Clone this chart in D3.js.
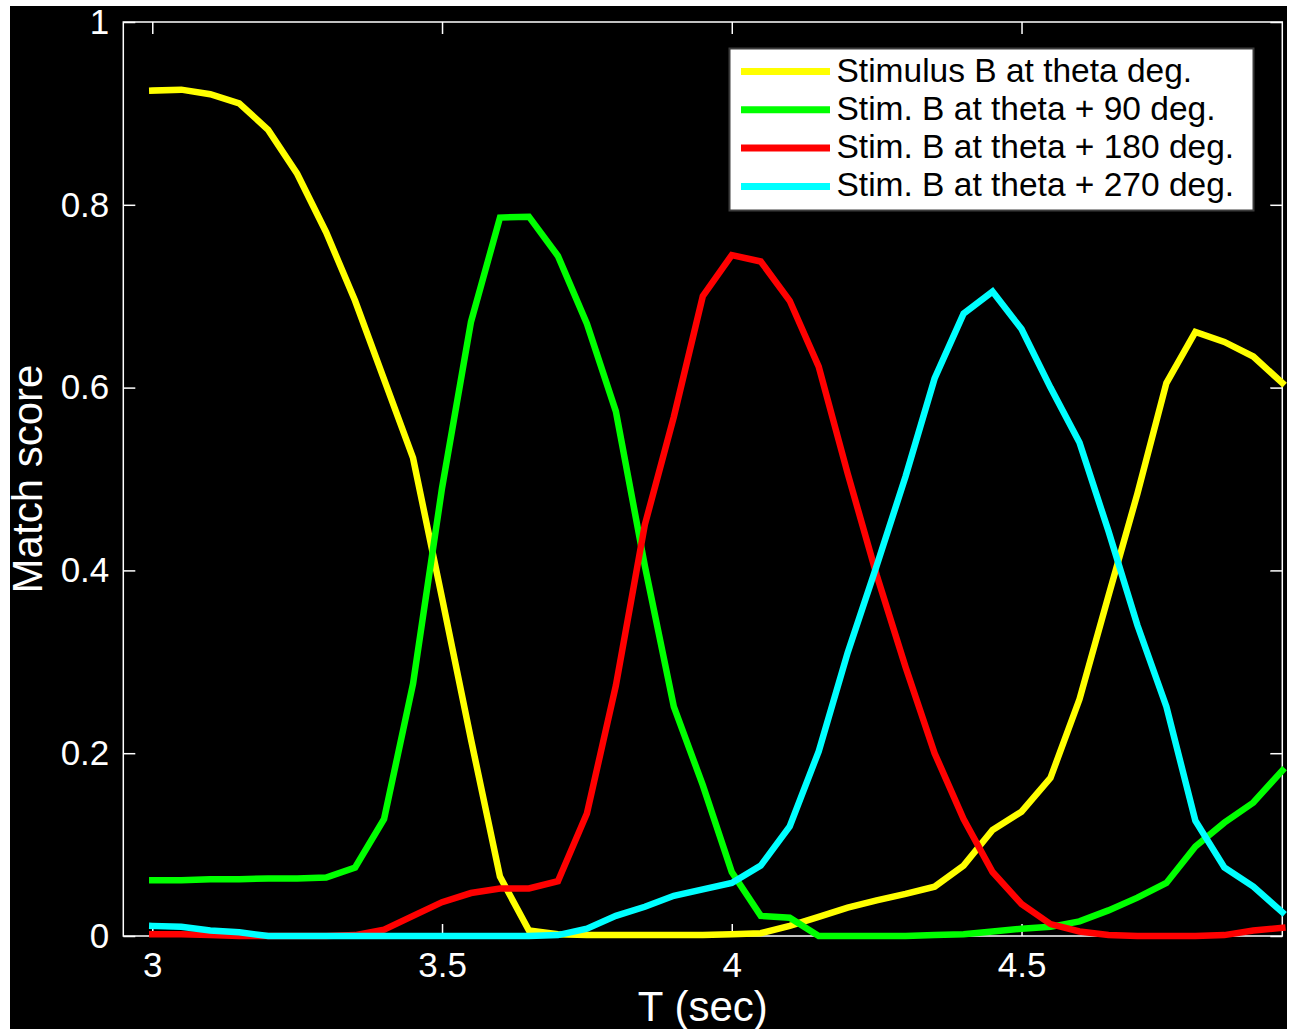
<!DOCTYPE html>
<html>
<head>
<meta charset="utf-8">
<script src="https://cdn.jsdelivr.net/npm/d3@7"></script>
<style>
    body {margin: 0; background: #fff;}
    svg text {font-family: "Liberation Sans", Arial, Helvetica, sans-serif;}
</style>
</head>
<body>
<div id="chart"></div>
<script>
// sample times (sec)
var time = [3.00, 3.05, 3.10, 3.15, 3.20, 3.25, 3.30, 3.35, 3.40, 3.45,
    3.50, 3.55, 3.60, 3.65, 3.70, 3.75, 3.80, 3.85, 3.90, 3.95,
    4.00, 4.05, 4.10, 4.15, 4.20, 4.25, 4.30, 4.35, 4.40, 4.45,
    4.50, 4.55, 4.60, 4.65, 4.70, 4.75, 4.80, 4.85, 4.90, 4.95];

// match scores
var stimTheta = [0.925, 0.926, 0.921, 0.911, 0.882, 0.834, 0.770, 0.695, 0.609, 0.523,
    0.370, 0.215, 0.065, 0.006, 0.002, 0.001, 0.001, 0.001, 0.001, 0.001,
    0.002, 0.003, 0.011, 0.021, 0.031, 0.039, 0.046, 0.054, 0.077, 0.116,
    0.136, 0.173, 0.259, 0.372, 0.484, 0.605, 0.661, 0.650, 0.634, 0.605];
var stim90 = [0.061, 0.061, 0.062, 0.062, 0.063, 0.063, 0.064, 0.075, 0.128, 0.276,
    0.490, 0.672, 0.786, 0.787, 0.744, 0.670, 0.574, 0.405, 0.251, 0.165,
    0.070, 0.022, 0.020, 0.000, 0.000, 0.000, 0.000, 0.001, 0.002, 0.005,
    0.008, 0.010, 0.016, 0.028, 0.042, 0.058, 0.098, 0.124, 0.146, 0.181];
var stim180 = [0.002, 0.002, 0.001, 0.000, 0.000, 0.000, 0.000, 0.001, 0.007, 0.022,
    0.037, 0.047, 0.052, 0.052, 0.060, 0.134, 0.274, 0.450, 0.568, 0.700,
    0.745, 0.738, 0.695, 0.623, 0.506, 0.395, 0.294, 0.200, 0.128, 0.070,
    0.035, 0.013, 0.005, 0.001, 0.000, 0.000, 0.000, 0.001, 0.006, 0.009];
var stim270 = [0.011, 0.010, 0.006, 0.004, 0.000, 0.000, 0.000, 0.000, 0.000, 0.000,
    0.000, 0.000, 0.000, 0.000, 0.001, 0.008, 0.022, 0.032, 0.044, 0.051,
    0.058, 0.077, 0.120, 0.202, 0.310, 0.405, 0.503, 0.610, 0.681, 0.705,
    0.664, 0.600, 0.540, 0.443, 0.340, 0.251, 0.126, 0.075, 0.054, 0.026];

var seriesNames = ["Stimulus B at theta deg.", "Stim. B at theta + 90 deg.",
    "Stim. B at theta + 180 deg.", "Stim. B at theta + 270 deg."];
var seriesColors = ["#ffff00", "#00ff00", "#ff0000", "#00ffff"];
var seriesValues = [stimTheta, stim90, stim180, stim270];

var xTicks = [3, 3.5, 4, 4.5];
var yTicks = [0, 0.2, 0.4, 0.6, 0.8, 1];

//declaration basic things
var W = 1290, H = 1029;
var margin = {top: 22, right: 7.7, bottom: 93, left: 123.3},
    width = W - margin.left - margin.right,
    height = H - margin.top - margin.bottom;

var svg = d3.select("#chart").append("svg")
    .attr("width", W)
    .attr("height", H);

// black figure background
svg.append("rect")
    .attr("x", 10)
    .attr("y", 6)
    .attr("width", 1277)
    .attr("height", H - 6)
    .attr("fill", "#000");

var g = svg.append("g")
    .attr("transform", "translate(" + margin.left + "," + margin.top + ")");

var xScale = d3.scaleLinear().domain([2.95, 4.95]).range([0, width]);
var yScale = d3.scaleLinear().domain([0, 1]).range([height, 0]);

var fmt = function (d) { return String(d); };

// axes, ticks pointing inward
var xAxis = g.append("g")
    .attr("transform", "translate(0," + height + ")")
    .call(d3.axisBottom(xScale).tickValues(xTicks).tickSizeInner(-12).tickSizeOuter(0)
        .tickPadding(16).tickFormat(fmt));
var xAxisTop = g.append("g")
    .call(d3.axisTop(xScale).tickValues(xTicks).tickSizeInner(-12).tickSizeOuter(0).tickFormat(""));
var yAxis = g.append("g")
    .call(d3.axisLeft(yScale).tickValues(yTicks).tickSizeInner(-12).tickSizeOuter(0)
        .tickPadding(14).tickFormat(fmt));
var yAxisRight = g.append("g")
    .attr("transform", "translate(" + width + ",0)")
    .call(d3.axisRight(yScale).tickValues(yTicks).tickSizeInner(-12).tickSizeOuter(0).tickFormat(""));

[xAxis, xAxisTop, yAxis, yAxisRight].forEach(function (a) {
    a.select(".domain").remove();
    a.selectAll("line").attr("stroke", "#fff").attr("stroke-width", 1.5);
    a.selectAll("text").attr("fill", "#fff").style("font-size", "35px");
});

// axes box
g.append("rect")
    .attr("width", width)
    .attr("height", height)
    .attr("fill", "none")
    .attr("stroke", "#fff")
    .attr("stroke-width", 1.5);

// lines
var line = d3.line()
    .x(function (d, i) { return xScale(time[i]); })
    .y(function (d) { return yScale(d); });

seriesValues.forEach(function (vals, k) {
    g.append("path")
        .datum(vals)
        .attr("d", line)
        .attr("fill", "none")
        .attr("stroke", seriesColors[k])
        .attr("stroke-width", 6.5)
        .attr("stroke-linecap", "square");
});

// axis labels
g.append("text")
    .attr("x", width / 2)
    .attr("y", height + 85)
    .attr("text-anchor", "middle")
    .attr("fill", "#fff")
    .style("font-size", "42px")
    .text("T (sec)");

g.append("text")
    .attr("transform", "translate(" + (42 - margin.left) + "," + (height / 2) + ") rotate(-90)")
    .attr("text-anchor", "middle")
    .attr("fill", "#fff")
    .style("font-size", "42px")
    .text("Match score");

// legend
var legend = svg.append("g")
    .attr("transform", "translate(729.5,48.5)");
legend.append("rect")
    .attr("width", 524)
    .attr("height", 162)
    .attr("fill", "#fff")
    .attr("stroke", "#3c3c3c")
    .attr("stroke-width", 2);

var rows = legend.selectAll("g.row")
    .data(seriesNames)
    .enter().append("g")
    .attr("class", "row")
    .attr("transform", function (d, i) { return "translate(0," + (23 + i * 38.3) + ")"; });
rows.append("line")
    .attr("x1", 11.5)
    .attr("x2", 100.5)
    .attr("stroke", function (d, i) { return seriesColors[i]; })
    .attr("stroke-width", 7);
rows.append("text")
    .attr("x", 107)
    .attr("y", 10)
    .attr("fill", "#000")
    .style("font-size", "33.5px")
    .text(function (d) { return d; });
</script>
</body>
</html>
